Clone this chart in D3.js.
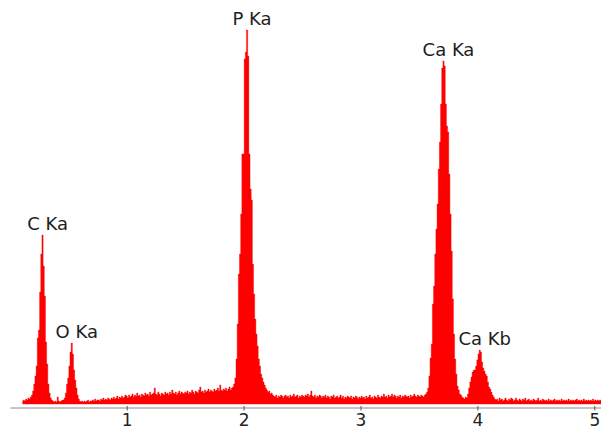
<!DOCTYPE html>
<html>
<head>
<meta charset="utf-8">
<script src="https://cdn.jsdelivr.net/npm/d3@7"></script>
<style>
  html, body { margin: 0; padding: 0; background: #fff; }
  svg { display: block; }
</style>
</head>
<body>
<div id="chart"></div>
<script>
// EDS spectrum, channel width 0.01 keV, first channel at 0.11 keV
const startEnergy = 0.11;
const channelWidth = 0.01;
const counts = [
  3,4,3,5,4,6,5,7,9,13,            // 0.11
  20,28,38,66,74,112,150,169,138,108,
  62,40,20,11,6,4,3,2,3,2,
  7,3,2,3,4,4,6,11,20,26,
  38,52,61,50,34,24,16,9,5,3,
  2,3,2,3,2,3,4,2,3,3,             // 0.61
  4,3,5,3,4,4,3,5,4,6,
  4,5,4,6,5,4,6,5,7,5,
  6,8,5,7,6,8,6,7,9,8,
  6,9,7,8,10,7,9,8,11,8,           // 1.01
  9,7,10,9,8,11,9,10,8,12,
  9,10,11,16,10,9,12,10,8,11,
  10,9,12,10,11,9,12,10,14,11,
  10,12,9,11,13,10,12,11,10,12,
  11,13,10,12,11,14,12,10,13,12,   // 1.51
  11,14,17,12,13,11,14,12,13,15,
  12,14,13,12,15,13,14,16,13,19,
  14,13,15,14,16,13,15,17,14,16,
  17,20,26,45,80,130,150,190,250,250,
  345,352,374,348,250,215,204,140,110,85,   // 2.01
  70,58,45,38,30,26,22,19,16,14,
  12,13,10,11,9,8,7,9,6,8,
  7,9,8,6,8,9,7,8,6,9,
  7,8,10,7,8,9,6,8,7,9,
  8,7,9,8,10,7,9,13,8,7,           // 2.51
  9,6,8,7,9,8,6,8,7,9,
  6,8,7,5,8,7,9,6,7,8,
  6,7,9,6,8,5,7,6,8,7,
  6,8,5,7,6,8,7,5,7,6,
  8,6,7,5,8,6,7,9,6,7,             // 3.01
  5,8,7,6,9,7,6,8,7,10,
  7,8,6,9,7,8,10,7,9,8,
  6,8,7,9,6,8,7,9,8,7,
  8,6,9,7,8,10,8,7,9,8,
  7,9,8,7,9,10,12,16,28,46,        // 3.51
  60,100,118,150,175,200,235,262,300,336,
  343,338,300,278,272,230,190,153,105,70,
  45,30,18,14,10,9,7,6,5,7,
  6,10,16,22,27,32,34,34,38,44,
  50,54,52,42,36,33,30,28,22,17,   // 4.01
  15,12,9,7,5,4,5,3,6,4,
  5,3,4,6,4,3,5,4,6,5,
  3,4,6,4,3,5,4,3,5,4,
  6,3,4,5,3,4,3,5,4,3,
  4,6,3,4,3,5,4,3,4,3,             // 4.51
  5,3,4,3,4,5,3,4,3,4,
  3,5,3,4,3,4,3,5,3,4,
  3,4,3,4,5,3,4,3,4,3,
  5,3,4,3,4,3,4,3,5,3,
  4,3,4,3,4,3,4,3,4,3              // 5.01
];

const tickValues = [1, 2, 3, 4, 5];
const lineNames = ['C Ka', 'O Ka', 'P Ka', 'Ca Ka', 'Ca Kb'];
const lineEnergies = [0.28, 0.53, 2.03, 3.71, 4.02];

const width = 601, height = 430;
const data = counts.map((c, i) => ({ e: startEnergy + i * channelWidth, c: c }));

const svg = d3.select('#chart').append('svg')
  .attr('width', width)
  .attr('height', height);

const x = d3.scaleLinear()
  .domain([0, 5.1])
  .range([9.8, 9.8 + 116.9 * 5.1]);
const y = d3.scaleLinear()
  .domain([0, 400])
  .range([404, 4]);

const area = d3.area()
  .x(d => x(d.e))
  .y0(y(0))
  .y1(d => y(d.c))
  .curve(d3.curveStep);

svg.append('path')
  .datum(data)
  .attr('d', area)
  .attr('fill', '#ff0000')
  .attr('stroke', '#f00000')
  .attr('stroke-width', 0.4);

// x axis
const axis = svg.append('g')
  .attr('transform', 'translate(0,407.5)')
  .call(d3.axisBottom(x).tickValues(tickValues).tickSize(3).tickSizeOuter(0).tickFormat(d3.format('d')));

axis.select('.domain').attr('stroke', '#8a8a8a');
axis.selectAll('.tick line').attr('stroke', '#555').attr('y1', -1.5);
axis.selectAll('.tick text')
  .attr('y', 6.5)
  .attr('fill', '#222')
  .style('font-family', 'DejaVu Sans')
  .style('font-size', '17px');

// peak labels, placed just above the highest channel near each line
svg.selectAll('.peak-label')
  .data(lineNames)
  .enter()
  .append('text')
  .attr('class', 'peak-label')
  .attr('x', (d, i) => x(lineEnergies[i]) + 5)
  .attr('y', (d, i) => {
    const near = data.filter(p => Math.abs(p.e - lineEnergies[i]) < 0.03);
    return y(d3.max(near, p => p.c)) - 5;
  })
  .attr('text-anchor', 'middle')
  .attr('fill', '#1e1e1e')
  .style('font-family', 'DejaVu Sans')
  .style('font-size', '18px')
  .text(d => d);
</script>
</body>
</html>
